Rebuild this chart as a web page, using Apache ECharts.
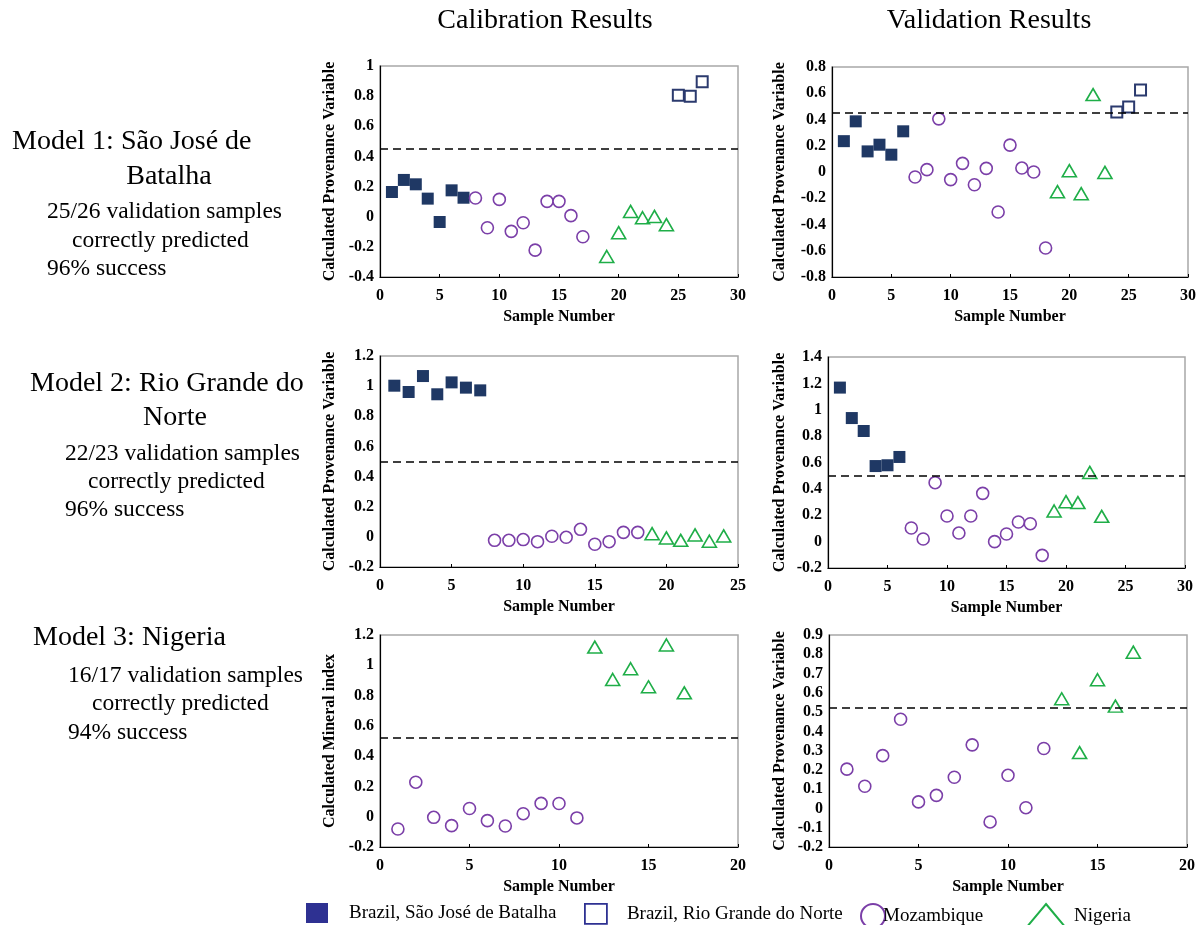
<!DOCTYPE html>
<html><head><meta charset="utf-8">
<script src="https://cdn.jsdelivr.net/npm/echarts@6/dist/echarts.min.js"></script>
<style>html,body{margin:0;padding:0;background:#fff}#c{width:1204px;height:925px}</style>
</head><body><div id="c"></div>
<script>
// ---- Data: [sample number, calculated value] ----
// Model 1 calibration
const m1CalSJB = [[1,0.164],[2,0.244],[3,0.215],[4,0.12],[5,-0.035],[6,0.175],[7,0.126]];
const m1CalMoz = [[8,0.124],[9,-0.073],[10,0.115],[11,-0.097],[12,-0.04],[13,-0.222],[14,0.102],[15,0.102],[16,0.007],[17,-0.133]];
const m1CalNig = [[19,-0.264],[20,-0.106],[21,0.035],[22,-0.007],[23,0.002],[24,-0.053]];
const m1CalRGN = [[25,0.806],[26,0.8],[27,0.895]];
// Model 1 validation
const m1ValSJB = [[1,0.235],[2,0.386],[3,0.157],[4,0.208],[5,0.132],[6,0.31]];
const m1ValMoz = [[7,-0.038],[8,0.018],[9,0.405],[10,-0.058],[11,0.066],[12,-0.097],[13,0.028],[14,-0.305],[15,0.205],[16,0.03],[17,0],[18,-0.579]];
const m1ValNig = [[19,-0.15],[20,0.01],[21,-0.165],[22,0.59],[23,-0.003]];
const m1ValRGN = [[24,0.457],[25,0.495],[26,0.625]];
// Model 2 calibration
const m2CalRGN = [[1,1.003],[2,0.961],[3,1.067],[4,0.946],[5,1.025],[6,0.99],[7,0.972]];
const m2CalMoz = [[8,-0.023],[9,-0.023],[10,-0.018],[11,-0.032],[12,0.004],[13,-0.003],[14,0.05],[15,-0.049],[16,-0.032],[17,0.03],[18,0.03]];
const m2CalNig = [[19,0.021],[20,-0.007],[21,-0.023],[22,0.013],[23,-0.029],[24,0.006]];
// Model 2 validation
const m2ValRGN = [[1,1.168],[2,0.937],[3,0.839],[4,0.573],[5,0.579],[6,0.642]];
const m2ValMoz = [[7,0.103],[8,0.02],[9,0.447],[10,0.194],[11,0.065],[12,0.194],[13,0.366],[14,0],[15,0.058],[16,0.149],[17,0.136],[18,-0.104]];
const m2ValNig = [[19,0.232],[20,0.303],[21,0.296],[22,0.525],[23,0.192]];
// Model 3 calibration
const m3CalMoz = [[1,-0.081],[2,0.228],[3,-0.004],[4,-0.059],[5,0.054],[6,-0.026],[7,-0.061],[8,0.02],[9,0.088],[10,0.087],[11,-0.008]];
const m3CalNig = [[12,1.12],[13,0.906],[14,0.977],[15,0.858],[16,1.134],[17,0.818]];
// Model 3 validation
const m3ValMoz = [[1,0.204],[2,0.115],[3,0.274],[4,0.463],[5,0.034],[6,0.068],[7,0.162],[8,0.33],[9,-0.07],[10,0.172],[11,0.004],[12,0.311]];
const m3ValNig = [[13,0.569],[14,0.29],[15,0.668],[16,0.531],[17,0.811]];

const thresholds = [0.45, 0.45, 0.5, 0.5, 0.52, 0.52];
const xMax = [30, 30, 25, 30, 20, 20];
const yMin = [-0.4, -0.8, -0.2, -0.2, -0.2, -0.2];
const yMax = [1, 0.8, 1.2, 1.4, 1.2, 0.9];
const yStep = [0.2, 0.2, 0.2, 0.2, 0.2, 0.1];
const yNames = ['Calculated Provenance Variable','Calculated Provenance Variable','Calculated Provenance Variable','Calculated Provenance Variable','Calculated Mineral index','Calculated Provenance Variable'];
const xName = 'Sample Number';

const NAME_SJB = 'Brazil, São José de Batalha';
const NAME_RGN = 'Brazil, Rio Grande do Norte';
const NAME_MOZ = 'Mozambique';
const NAME_NIG = 'Nigeria';

// which marker each group uses in each panel (Model 2 plots its own region with filled squares)
const panelSeries = [
  [['filled',m1CalSJB],['moz',m1CalMoz],['nig',m1CalNig],['open',m1CalRGN]],
  [['filled',m1ValSJB],['moz',m1ValMoz],['nig',m1ValNig],['open',m1ValRGN]],
  [['filled',m2CalRGN],['moz',m2CalMoz],['nig',m2CalNig]],
  [['filled',m2ValRGN],['moz',m2ValMoz],['nig',m2ValNig]],
  [['moz',m3CalMoz],['nig',m3CalNig]],
  [['moz',m3ValMoz],['nig',m3ValNig]]
];

// ---- Layout / style ----
const SERIF = '"Liberation Serif","Times New Roman",serif';
const grids = [
  {left:380, top:66, width:358, height:211},
  {left:832, top:67, width:356, height:210},
  {left:380, top:356, width:358, height:211},
  {left:828, top:357, width:357, height:211},
  {left:380, top:635, width:358, height:212},
  {left:829, top:635, width:358, height:212}
];
const yNameGap = [42, 44, 42, 40, 42, 41];
const styles = {
  filled:{name:NAME_SJB, symbol:'rect', symbolSize:12, itemStyle:{color:'#1f3864', opacity:1, borderWidth:0}},
  open:{name:NAME_RGN, symbol:'rect', symbolSize:11, itemStyle:{color:'#ffffff', opacity:1, borderColor:'#2b3a6e', borderWidth:2}},
  moz:{name:NAME_MOZ, symbol:'circle', symbolSize:12, itemStyle:{color:'#ffffff', opacity:1, borderColor:'#7b3fa8', borderWidth:1.6}},
  nig:{name:NAME_NIG, symbol:'triangle', symbolSize:[14,12], itemStyle:{color:'#ffffff', opacity:1, borderColor:'#1fae48', borderWidth:1.6}}
};

const labelFont = {fontFamily:SERIF, fontWeight:'bold', fontSize:16, color:'#000'};
const xAxes = [], yAxes = [], series = [];
grids.forEach((g, i) => {
  xAxes.push({gridIndex:i, type:'value', min:0, max:xMax[i], interval:5,
    name:xName, nameLocation:'middle', nameGap:32,
    nameTextStyle:{fontFamily:SERIF, fontWeight:'bold', fontSize:16, color:'#000'},
    axisLine:{onZero:false, lineStyle:{color:'#000', width:1.2}},
    axisTick:{show:true, inside:true, length:3, lineStyle:{color:'#000'}},
    axisLabel:Object.assign({margin:11}, labelFont),
    splitLine:{show:false}});
  yAxes.push({gridIndex:i, type:'value', min:yMin[i], max:yMax[i], interval:yStep[i],
    name:yNames[i], nameLocation:'middle', nameRotate:90, nameGap:yNameGap[i],
    nameTextStyle:{fontFamily:SERIF, fontWeight:'bold', fontSize:16, color:'#000'},
    axisLine:{onZero:false, lineStyle:{color:'#000', width:1.2}},
    axisTick:{show:false},
    axisLabel:Object.assign({margin:6}, labelFont),
    splitLine:{show:false}});
  panelSeries[i].forEach(([kind, data], k) => {
    const st = JSON.parse(JSON.stringify(styles[kind]));
    const s = Object.assign({type:'scatter', xAxisIndex:i, yAxisIndex:i, data:data, z:3}, st);
    if (k === 0) {
      s.markLine = {silent:true, symbol:'none', label:{show:false}, animation:false,
        lineStyle:{type:[8,5], color:'#000', width:1.6, opacity:1}, data:[{yAxis:thresholds[i]}]};
    }
    series.push(s);
  });
});

const gridOpts = grids.map(g => Object.assign({show:true, borderColor:'#a8a8a8', borderWidth:1.5, backgroundColor:'transparent'}, g));

function txt(x, y, text, size, align) {
  return {type:'text', x:x, y:y, style:{text:text, fontFamily:SERIF, fontSize:size, fill:'#000', textAlign:align||'left', textVerticalAlign:'middle'}};
}
const graphics = [
  txt(545, 21, 'Calibration Results', 28, 'center'),
  txt(989, 21, 'Validation Results', 28, 'center'),
  txt(12, 142, 'Model 1: São José de', 28),
  txt(169, 177, 'Batalha', 28, 'center'),
  txt(47, 212, '25/26 validation samples', 23.5),
  txt(72, 241, 'correctly predicted', 23.5),
  txt(47, 269, '96% success', 23.5),
  txt(30, 384, 'Model 2: Rio Grande do', 28),
  txt(175, 418, 'Norte', 28, 'center'),
  txt(65, 454, '22/23 validation samples', 23.5),
  txt(88, 482, 'correctly predicted', 23.5),
  txt(65, 510, '96% success', 23.5),
  txt(33, 638, 'Model 3: Nigeria', 28),
  txt(68, 676, '16/17 validation samples', 23.5),
  txt(92, 704, 'correctly predicted', 23.5),
  txt(68, 733, '94% success', 23.5)
];

const legendText = {fontFamily:SERIF, fontSize:19, color:'#000'};
const legends = [
  {left:306, top:903, itemWidth:22, itemHeight:20, data:[{name:NAME_SJB, icon:'rect', itemStyle:{color:'#2e3192', borderWidth:0, opacity:1}}], textStyle:Object.assign({padding:[0,0,0,16]}, legendText)},
  {left:584, top:903, itemWidth:22, itemHeight:20, data:[{name:NAME_RGN, icon:'rect', itemStyle:{color:'#fff', borderColor:'#2e3192', borderWidth:1.8, opacity:1}}], textStyle:Object.assign({padding:[0,0,0,15]}, legendText)},
  {left:860, top:903, itemWidth:24, itemHeight:24, data:[{name:NAME_MOZ, icon:'circle', itemStyle:{color:'#fff', borderColor:'#7b3fa8', borderWidth:2, opacity:1}}], textStyle:Object.assign({padding:[0,0,0,-7]}, legendText)},
  {left:1025, top:903, itemWidth:40, itemHeight:24, data:[{name:NAME_NIG, icon:'triangle', itemStyle:{color:'#fff', borderColor:'#1fae48', borderWidth:2, opacity:1}}], textStyle:Object.assign({padding:[0,0,0,3]}, legendText)}
].map(l => Object.assign({orient:'horizontal', selectedMode:false, padding:0}, l));

const chart = echarts.init(document.getElementById('c'), null, {renderer:'canvas'});
chart.setOption({
  animation:false,
  backgroundColor:'#fff',
  grid:gridOpts,
  xAxis:xAxes,
  yAxis:yAxes,
  series:series,
  legend:legends,
  graphic:graphics
});
</script></body></html>
